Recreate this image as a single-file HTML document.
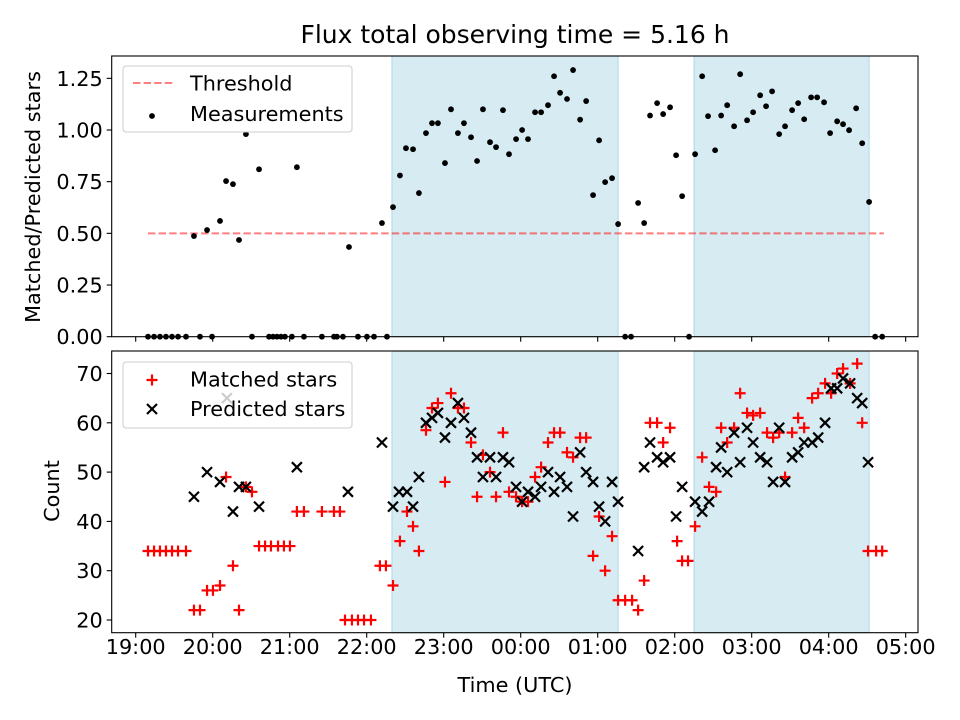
<!DOCTYPE html>
<html><head><meta charset="utf-8"><style>
html,body{margin:0;padding:0;background:#fff;}
svg{display:block;font-family:"DejaVu Sans","Liberation Sans",sans-serif;}
</style></head><body>
<svg id="fig" width="960" height="720" viewBox="0 0 960 720" xmlns="http://www.w3.org/2000/svg">
<rect width="960" height="720" fill="#fff"/>
<text x="515" y="43" font-size="25" text-anchor="middle" fill="#000">Flux total observing time = 5.16 h</text>
<g id="top"></g>
<g id="bot"></g>
<text x="515" y="692" font-size="20.8" text-anchor="middle">Time (UTC)</text>
<text transform="translate(40,197) rotate(-90)" font-size="20.8" text-anchor="middle">Matched/Predicted stars</text>
<text transform="translate(59,491) rotate(-90)" font-size="20.8" text-anchor="middle">Count</text>
</svg>
<script>
const xTickMinutes=[0,60,120,180,240,300,360,420,480,540,600];
const xTickLabels=["19:00","20:00","21:00","22:00","23:00","00:00","01:00","02:00","03:00","04:00","05:00"];
const topTickValues=[0,0.25,0.5,0.75,1.0,1.25];
const topTickLabels=["0.00","0.25","0.50","0.75","1.00","1.25"];
const botTickValues=[20,30,40,50,60,70];
const botTickLabels=["20","30","40","50","60","70"];
const spanStarts=[199.7,435.1];
const spanEnds=[375.9,571.5];
const thresholdValue=0.5;
const thresholdRange=[9.6,583];
const topTimes=[9.6,14.3,18.9,23.6,28.3,33.0,39.2,45.4,50.1,55.6,59.5,65.7,70.4,75.8,80.5,85.9,90.6,96.1,103.9,107,110.1,113.2,116.3,121.7,125.6,131.1,145.1,154.5,156.8,161.5,166.2,173.2,180.2,185.7,191.9,195.8,200.5,205.9,210.6,216.1,220.7,226.2,230.9,235.5,241.0,245.7,251.1,255.8,261.3,266.0,270.6,276.1,280.8,286.2,290.9,296.4,301.1,305.7,311.2,315.9,321.3,326.0,330.7,336.1,340.8,346.3,351.0,356.4,361.1,365.8,371.2,375.9,381.4,386.0,391.5,396.2,400.8,406.3,411.0,416.4,421.1,425.8,431.2,435.9,441.4,446.0,451.5,456.2,460.9,466.3,471.0,476.4,481.1,486.6,491.2,495.9,501.4,506.0,511.5,516.2,520.9,526.3,531.0,536.4,541.1,546.6,551.2,555.9,561.4,566.1,571.5,576.2,581.7];
const topValues=[0,0,0,0,0,0,0,0.487,0,0.516,0,0.56,0.753,0.738,0.468,0.98,0,0.81,0,0,0,0,0,0,0.82,0,0,0,0,0,0.434,0,0,0,0.55,0,0.627,0.78,0.912,0.907,0.695,0.985,1.033,1.033,0.84,1.10,0.985,1.033,0.965,0.85,1.10,0.941,0.917,1.096,0.883,0.956,1.0,0.956,1.086,1.086,1.12,1.26,1.18,1.15,1.29,1.05,1.14,0.685,0.95,0.748,0.767,0.545,0,0,0.647,0.55,1.07,1.13,1.077,1.11,0.878,0.68,0,0.883,1.26,1.067,0.902,1.07,1.12,1.018,1.27,1.047,1.086,1.168,1.115,1.187,0.98,1.018,1.096,1.13,1.052,1.158,1.158,1.134,0.985,1.042,1.028,0.999,1.105,0.936,0.652,0,0];
const matchedTimes=[9.6,14.3,18.9,23.6,28.3,33.0,39.2,45.4,50.1,55.6,60.2,65.7,70.4,75.8,80.5,85.9,90.6,96.1,100.8,105.4,110.9,115.5,120.2,125.6,131.1,145.1,154.5,159.1,163.1,168.5,173.2,177.9,183.3,190.3,195.0,200.5,205.9,211.4,216.1,220.7,226.2,230.9,235.5,241.0,245.7,251.1,255.8,261.3,266.0,270.6,276.1,280.8,286.2,290.9,296.4,301.1,305.7,311.2,315.9,321.3,326.0,330.7,336.1,340.8,346.3,351.0,356.4,361.1,365.8,371.2,375.9,381.4,386.8,391.5,396.2,400.8,406.3,411.0,416.4,421.9,425.8,430.4,435.9,441.4,446.8,452.3,456.2,460.9,466.3,471.0,476.4,481.1,486.6,492.0,496.7,501.4,506.0,511.5,516.2,520.9,527.1,531.8,537.2,541.9,546.6,551.2,556.7,562.2,566.1,570.7,577.0,581.7];
const matchedCounts=[34,34,34,34,34,34,34,22,22,26,26,27,49,31,22,47,46,35,35,35,35,35,35,42,42,42,42,42,20,20,20,20,20,31,31,27,36,42,39,34,58.5,63,64,48,66,63,63,56,45,53.5,50,45,58,46,45,44,44,49,51,56,58,58,54,53,57,57,33,41,30,37,24,24,24,22,28,60,60,56,59,36,32,32,39,53,47,46,59,56,59,66,62,61.5,62,58,57,58,49,58,61,59,65,66,68,66,70,71,68,72,60,34,34,34];
const predictedTimes=[45.4,55.6,65.7,71.1,75.8,80.5,85.9,96.1,125.6,165.4,191.9,200.5,205.2,211.4,216.1,220.7,226.2,230.9,235.5,241.0,245.7,251.1,255.8,261.3,266.0,270.6,276.1,280.8,286.2,290.9,296.4,301.1,305.7,311.2,315.9,321.3,326.0,330.7,336.1,340.8,346.3,351.0,356.4,361.1,365.8,371.2,375.9,391.5,396.2,400.8,406.3,411.0,416.4,421.1,425.8,435.9,441.4,446.8,452.3,456.2,460.9,466.3,471.0,476.4,481.1,486.6,492.0,496.7,501.4,506.0,511.5,516.2,520.9,527.1,531.8,537.2,541.9,546.6,551.2,556.7,562.2,566.1,570.7];
const predictedCounts=[45,50,48,65,42,47,47,43,51,46,56,43,46,46,43,49,60,61,62,57,60,64,61,58,53,49,53,49,53,52,47,44,46,45,47,50,46,49,47,41,54,50,48,43,40,48,44,34,51,56,53,52,53,41,47,44,42,44,51,55,50,58,52,59,56,53,52,48,59,48,53,54,56,56,57,60,67,67,69,68,65,64,52];

const NS="http://www.w3.org/2000/svg";
const L=111.7,R=918;
const T1=56,B1=336.7,T2=351,B2=632.7;
const FS=20.8;
function xs(m){return 135.7+m*1.2833;}
function yTop(v){return 336.7-v*206.7;}
function yBot(c){return 620-(c-20)*4.93;}
function mk(parent,tag,attrs){const e=document.createElementNS(NS,tag);for(const k in attrs)e.setAttribute(k,attrs[k]);parent.appendChild(e);return e;}
const topG=document.getElementById('top'),botG=document.getElementById('bot');

function panel(g,T,B,prefix){
  for(let i=0;i<spanStarts.length;i++){
    const r=mk(g,'rect',{x:xs(spanStarts[i]),y:T,width:xs(spanEnds[i])-xs(spanStarts[i]),height:B-T,fill:'#add8e6','fill-opacity':0.5,stroke:'#add8e6','stroke-width':1});
    
    
  }
}
panel(topG,T1,B1,'top');panel(botG,T2,B2,'bottom');

const th=mk(topG,'line',{x1:xs(thresholdRange[0]),x2:xs(thresholdRange[1]),y1:yTop(thresholdValue),y2:yTop(thresholdValue),stroke:'#ff0000','stroke-opacity':0.5,'stroke-width':2,'stroke-dasharray':'7.4,3.2'});



for(let i=0;i<topTimes.length;i++){
  const c=mk(topG,'circle',{cx:xs(topTimes[i]),cy:yTop(topValues[i]),r:2.9,fill:'#000'});
  
  
}
function plus(g,x,y){return mk(g,'path',{d:`M${x-5.5},${y}H${x+5.5}M${x},${y-5.5}V${y+5.5}`,stroke:'#ff0000','stroke-width':2.2,fill:'none'});}
function cross(g,x,y){return mk(g,'path',{d:`M${x-5},${y-5}L${x+5},${y+5}M${x-5},${y+5}L${x+5},${y-5}`,stroke:'#000','stroke-width':2.2,fill:'none'});}
for(let i=0;i<matchedTimes.length;i++){
  const p=plus(botG,xs(matchedTimes[i]),yBot(matchedCounts[i]));
  
  
}
for(let i=0;i<predictedTimes.length;i++){
  const p=cross(botG,xs(predictedTimes[i]),yBot(predictedCounts[i]));
  
  
}

function axes(g,T,B,vals,labs,yf,prefix,showX){
  const fr=mk(g,'rect',{x:L,y:T,width:R-L,height:B-T,fill:'none',stroke:'#000','stroke-width':1.1});
  
  
  for(let i=0;i<vals.length;i++){
    const y=yf(vals[i]);
    mk(g,'line',{x1:L-5,x2:L,y1:y,y2:y,stroke:'#000','stroke-width':1.1});
    const t=mk(g,'text',{x:L-9,y:y+7.5,'font-size':FS,'text-anchor':'end'});
    t.textContent=labs[i];
    
    
  }
  for(let i=0;i<xTickMinutes.length;i++){
    const x=xs(xTickMinutes[i]);
    mk(g,'line',{x1:x,x2:x,y1:B,y2:B+5,stroke:'#000','stroke-width':1.1});
    if(showX){
      const t=mk(g,'text',{x:x,y:B+21.5,'font-size':FS,'text-anchor':'middle'});
      t.textContent=xTickLabels[i];
      
      
    }
  }
}
axes(topG,T1,B1,topTickValues,topTickLabels,yTop,'top',false);
axes(botG,T2,B2,botTickValues,botTickLabels,yBot,'bottom',true);

function legendBox(g,y,name){
  const r=mk(g,'rect',{x:123,y:y,width:229,height:66,rx:3,fill:'#fff','fill-opacity':0.8,stroke:'#cccccc','stroke-width':1});
  
  
}
legendBox(topG,66,'top-legend');
mk(topG,'line',{x1:133,x2:174,y1:83,y2:83,stroke:'#ff0000','stroke-opacity':0.5,'stroke-width':2,'stroke-dasharray':'7.4,3.2'});
let t=mk(topG,'text',{x:190,y:90.5,'font-size':FS});t.textContent='Threshold';


mk(topG,'circle',{cx:152,cy:116,r:2.9,fill:'#000'});
t=mk(topG,'text',{x:190,y:121,'font-size':FS});t.textContent='Measurements';



legendBox(botG,362,'bottom-legend');
plus(botG,152,380);
t=mk(botG,'text',{x:190,y:386.5,'font-size':FS});t.textContent='Matched stars';


cross(botG,152,409);
t=mk(botG,'text',{x:190,y:416,'font-size':FS});t.textContent='Predicted stars';


</script>
</body></html>
